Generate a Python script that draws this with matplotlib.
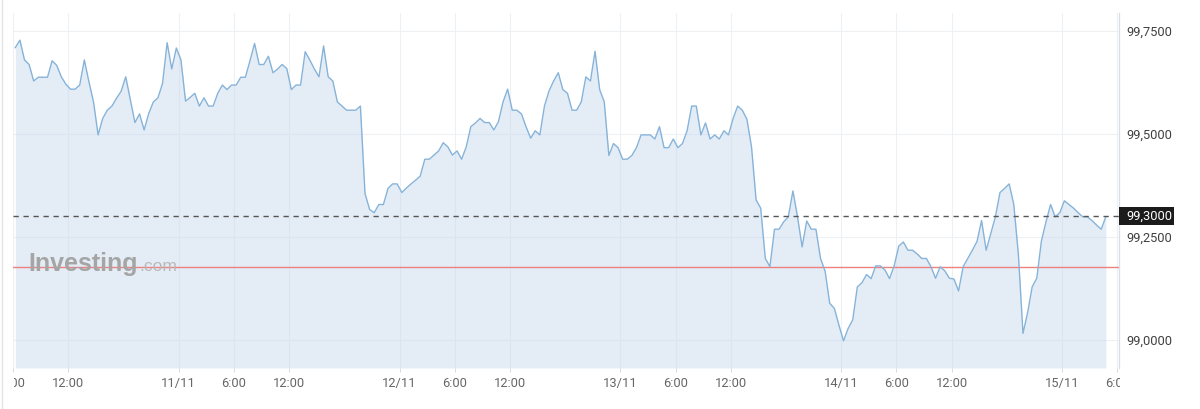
import numpy as np
import pandas as pd
import matplotlib
matplotlib.use("Agg")
import matplotlib.pyplot as plt
from matplotlib.ticker import FuncFormatter
from matplotlib.patches import Rectangle
from matplotlib.transforms import Bbox, TransformedBbox, blended_transform_factory

plt.rcParams['font.family'] = ['Roboto', 'DejaVu Sans']

# giá đóng cửa 30 phút, theo từng ngày
prices_10_11 = [99.710, 99.728, 99.680, 99.669, 99.629, 99.638, 99.638, 99.638, 99.678, 99.667,
                99.639, 99.621, 99.609, 99.609, 99.619, 99.680, 99.627, 99.578, 99.498, 99.538,
                99.558, 99.568, 99.587, 99.604, 99.639, 99.583, 99.528, 99.549, 99.510, 99.550,
                99.578, 99.588, 99.623, 99.722, 99.658, 99.709]
prices_11_11 = [99.680, 99.580, 99.589, 99.599,
                99.568, 99.588, 99.568, 99.568, 99.599, 99.619, 99.608, 99.619, 99.619, 99.638,
                99.638, 99.678, 99.720, 99.669, 99.669, 99.689, 99.649, 99.658, 99.669, 99.659,
                99.608, 99.619, 99.619, 99.700, 99.680, 99.658, 99.639, 99.714, 99.639, 99.629,
                99.578, 99.568, 99.558, 99.558, 99.558, 99.568,
                99.356, 99.317, 99.309, 99.329, 99.329, 99.368, 99.379, 99.379]
prices_12_11 = [99.358, 99.369, 99.379, 99.388, 99.398, 99.439, 99.439, 99.449, 99.459, 99.479,
                99.469, 99.449, 99.459, 99.439, 99.469, 99.518, 99.527, 99.538, 99.528, 99.528,
                99.510, 99.530, 99.578, 99.609, 99.558, 99.558, 99.549, 99.518, 99.490, 99.508,
                99.498, 99.568, 99.605,
                99.629, 99.649, 99.608, 99.599, 99.558, 99.558, 99.578, 99.639, 99.629, 99.701,
                99.608, 99.578, 99.448, 99.477, 99.467]
prices_13_11 = [99.439, 99.439, 99.448, 99.467, 99.498, 99.498, 99.498, 99.488, 99.518, 99.467,
                99.467, 99.488, 99.467, 99.477, 99.508, 99.568, 99.568, 99.498, 99.527, 99.488,
                99.498, 99.488, 99.508, 99.498, 99.538, 99.568, 99.558,
                99.536, 99.469, 99.340, 99.320, 99.198, 99.178, 99.269, 99.269, 99.287, 99.299,
                99.362, 99.299, 99.226, 99.289, 99.269, 99.269, 99.198, 99.167, 99.089, 99.077,
                99.036]
prices_14_11 = [98.998, 99.028, 99.049, 99.129, 99.139, 99.159, 99.149, 99.180, 99.180, 99.170,
                99.149, 99.180, 99.228, 99.238, 99.218, 99.218, 99.209, 99.198, 99.198,
                99.178, 99.150, 99.178, 99.168, 99.150, 99.148, 99.119, 99.178, 99.198, 99.218,
                99.239, 99.290, 99.218, 99.259, 99.299, 99.358, 99.368, 99.379, 99.329, 99.208,
                99.016, 99.066, 99.129, 99.150, 99.240, 99.287, 99.329, 99.299, 99.309]
prices_15_11 = [99.338, 99.329, 99.320, 99.309, 99.299, 99.299, 99.290, 99.279, 99.269, 99.299]

start_time = "2025-11-10 06:15"
current_price = 99.30
prev_close = 99.177

y_ticks = [99.00, 99.25, 99.50, 99.75]
x_tick_times = ["2025-11-10 06:00", "2025-11-10 12:00",
                "2025-11-11 00:00", "2025-11-11 06:00", "2025-11-11 12:00",
                "2025-11-12 00:00", "2025-11-12 06:00", "2025-11-12 12:00",
                "2025-11-13 00:00", "2025-11-13 06:00", "2025-11-13 12:00",
                "2025-11-14 00:00", "2025-11-14 06:00", "2025-11-14 12:00",
                "2025-11-15 00:00", "2025-11-15 06:00"]
x_tick_labels = ["6:00", "12:00", "11/11", "6:00", "12:00", "12/11", "6:00", "12:00",
                 "13/11", "6:00", "12:00", "14/11", "6:00", "12:00", "15/11", "6:00"]

prices = np.array(prices_10_11 + prices_11_11 + prices_12_11 +
                  prices_13_11 + prices_14_11 + prices_15_11)
times = pd.date_range(start_time, periods=len(prices), freq="30min")

W, H = 1200, 409
fig = plt.figure(figsize=(W / 100, H / 100), dpi=100)
ax = fig.add_axes([13 / W, 1 - 368 / H, (1119 - 13) / W, (368 - 13) / H])

y_min, y_max = 98.932, 99.794
ax.set_ylim(y_min, y_max)
ax.set_xlim(pd.Timestamp("2025-11-10 06:05"), pd.Timestamp("2025-11-15 06:11"))

# vùng và đường giá
ax.fill_between(times, prices, y_min, color="#bcd3ea", alpha=0.4, lw=0, zorder=1)
ax.plot(times, prices, color="#86b3d9", lw=1.0, zorder=3)

# giá đóng cửa trước và giá hiện tại
ax.axhline(prev_close, color="#ee8080", lw=1.0, zorder=2.5)
ax.axhline(current_price, color="#555555", lw=1.0, ls=(0, (3.8, 3.4)), zorder=4)

# trục
ax.set_yticks(y_ticks)
ax.yaxis.tick_right()
ax.yaxis.set_major_formatter(FuncFormatter(lambda v, p: f"{v:.4f}".replace(".", ",")))
ax.tick_params(axis="y", length=0, pad=5, labelsize=9.3, labelcolor="#404040")

ax.set_xticks(pd.to_datetime(x_tick_times))
ax.set_xticklabels(x_tick_labels)
ax.tick_params(axis="x", length=3, width=0.6, color="#d0d4da", pad=3.5,
               labelsize=9.3, labelcolor="#666666")

ax.grid(color="#eef1f4", lw=0.8, zorder=0)
ax.set_axisbelow(True)
for s in ["top", "left", "bottom"]:
    ax.spines[s].set_visible(False)
ax.spines["right"].set_color("#d9dfe8")
ax.spines["right"].set_linewidth(0.9)

# nhãn bị cắt ở hai đầu trục x
clip = TransformedBbox(Bbox([[13.5 / W, 0], [1119.5 / W, 1]]), fig.transFigure)
for lbl in ax.get_xticklabels():
    lbl.set_clip_on(True)
    lbl.set_clip_box(clip)

# hộp giá hiện tại
tr = blended_transform_factory(ax.transAxes, ax.transData)
box_h = 18 / 412
ax.add_patch(Rectangle((1.0, current_price - box_h / 2), 55 / 1106, box_h, transform=tr,
                       facecolor="#1b1b1b", edgecolor="none", clip_on=False, zorder=5))
ax.text(1.0 + 7 / 1106, current_price, f"{current_price:.4f}".replace(".", ","),
        transform=tr, ha="left", va="center", color="white", fontsize=9.3,
        clip_on=False, zorder=6)

# logo mờ
fig.text(28 / W, 1 - 271 / H, "Investing", fontsize=18, fontweight="bold",
         color="#a5a5a5", family="Liberation Sans", va="baseline")
fig.text(139 / W, 1 - 271 / H, ".com", fontsize=12.5, color="#b8b8b8",
         family="Liberation Sans", va="baseline")

fig.add_artist(plt.Line2D([2 / W, 2 / W], [0, 1], transform=fig.transFigure,
                          color="#e4e4e4", lw=1))

fig.savefig("out.png", dpi=100, facecolor="white")
